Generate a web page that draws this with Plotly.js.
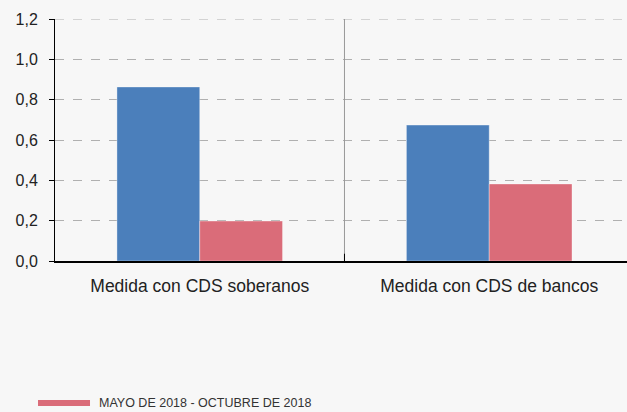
<!DOCTYPE html>
<html>
<head>
<meta charset="utf-8">
<script src="https://cdn.plot.ly/plotly-3.0.1.min.js"></script>
<style>html,body{margin:0;padding:0;background:#f7f7f7;}#chart{width:627px;height:412px;}</style>
</head>
<body>
<div id="chart"></div>
<script>
const categories = ["Medida con CDS soberanos", "Medida con CDS de bancos"];
const seriesNames = ["", "MAYO DE 2018 - OCTUBRE DE 2018"];
const seriesA = [0.863, 0.674];
const seriesB = [0.198, 0.382];
const yTicks = [0, 0.2, 0.4, 0.6, 0.8, 1.0, 1.2];

const traces = [
  {type: "bar", x: categories, y: seriesA, name: seriesNames[0], showlegend: false,
   marker: {color: "#4b7fbb", line: {color: "rgba(255,255,255,0.35)", width: 1}}},
  {type: "bar", x: categories, y: seriesB, name: seriesNames[1], showlegend: false,
   marker: {color: "#da6c79", line: {color: "rgba(255,255,255,0.35)", width: 1}}}
];

const layout = {
  width: 627, height: 412,
  margin: {l: 55, r: 0, t: 19, b: 151},
  paper_bgcolor: "#f7f7f7", plot_bgcolor: "#f7f7f7",
  separators: ",.",
  barmode: "group", bargap: 0.428, bargroupgap: 0,
  font: {family: "Liberation Sans, Arial, sans-serif", color: "#222"},
  xaxis: {
    type: "category", range: [-0.5, 1.476], showgrid: false,
    showline: true, linecolor: "#000", linewidth: 1.5, ticks: "",
    ticklabelstandoff: 8,
    tickfont: {size: 17.5, color: "#222"}, fixedrange: true
  },
  yaxis: {
    range: [0, 1.2], tickvals: yTicks, tickformat: ".1f",
    showline: true, linecolor: "#000", linewidth: 1,
    ticks: "outside", ticklen: 5, tickcolor: "#000", tickwidth: 1,
    ticklabelstandoff: 8,
    showgrid: true, gridcolor: "#b0b0b0", griddash: "dash", gridwidth: 1,
    zeroline: false, tickfont: {size: 16, color: "#222"}
  },
  shapes: [
    {type: "line", xref: "paper", yref: "y", x0: 0, x1: 1, y0: 1.2, y1: 1.2,
     line: {color: "#b0b0b0", width: 1, dash: "dash"}},
    {type: "line", xref: "x", yref: "y", x0: 0.5, x1: 0.5, y0: 0, y1: 1.2,
     line: {color: "#999", width: 1}},
    {type: "line", xref: "x", yref: "paper", x0: 0.5, x1: 0.5, y0: 0, y1: 0.03,
     line: {color: "#000", width: 1}},
    {type: "rect", xref: "paper", yref: "paper", x0: -0.0297, x1: 0.0612, y0: -0.599, y1: -0.574,
     fillcolor: "#da6c79", line: {width: 0}}
  ],
  annotations: [
    {xref: "paper", yref: "paper", x: 0.0734, y: -0.587, xanchor: "left", yanchor: "middle",
     text: seriesNames[1], showarrow: false,
     font: {family: "Liberation Sans, Arial, sans-serif", size: 12.5, color: "#333"}}
  ]
};

Plotly.newPlot("chart", traces, layout, {displayModeBar: false, staticPlot: true});
</script>
</body>
</html>
